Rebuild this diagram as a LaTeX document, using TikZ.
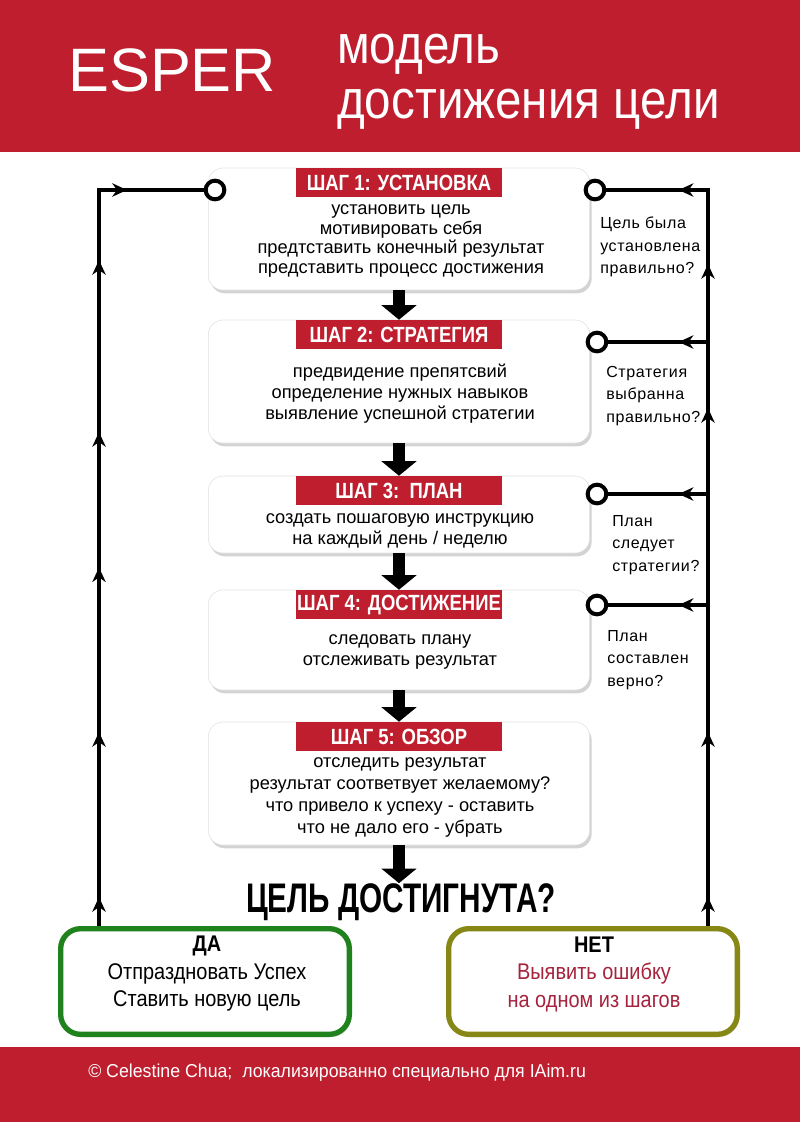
\documentclass[tikz,border=0pt]{standalone}
\usepackage{fontspec}
\setmainfont{Liberation Sans}
\newfontfamily\narrowfont{Liberation Sans}[FakeStretch=0.84]
\newfontfamily\titlefont{Liberation Sans}[FakeStretch=0.87]
\newfontfamily\answerfont{Liberation Sans}[FakeStretch=0.88]
\newfontfamily\creditfont{Liberation Sans}[FakeStretch=0.95]
\newfontfamily\tightfont{Liberation Sans}[FakeStretch=0.72]
\newfontfamily\spacedfont{Liberation Sans}[LetterSpace=4]
\usetikzlibrary{arrows.meta, positioning, shadows, decorations.markings}
\definecolor{ESPred}{RGB}{190,30,45}
\definecolor{ESPgreen}{RGB}{32,130,28}
\definecolor{ESPolive}{RGB}{135,135,22}
\definecolor{ESPerr}{RGB}{165,35,60}
\tikzset{
  every node/.style={font=\fontsize{13.7}{15.75}\selectfont},
  stepbox/.style={draw=black!12, fill=white, rounded corners=11pt, minimum width=286pt,
    drop shadow={shadow xshift=1.5pt, shadow yshift=-2.5pt, opacity=0.35}},
  stephead/.style={fill=ESPred, text=white, anchor=north, inner sep=0pt,
    minimum width=154pt, minimum height=22pt,
    font=\narrowfont\bfseries\fontsize{16.5}{18}\selectfont},
  steptext/.style={align=center, inner sep=0pt},
  question/.style={align=left, anchor=west, inner sep=0pt,
    font=\spacedfont\fontsize{12}{17}\selectfont},
  ring/.style={circle, draw, line width=3pt, fill=white, minimum size=14pt, inner sep=0pt},
  bigarrow/.style={line width=9.5pt, -{Triangle[width=26pt, length=11pt]}},
  loopline/.style={line width=3pt, postaction={decorate}, decoration={markings}},
  tipat/.style={decoration={mark=at position #1 with {\arrow{Stealth[length=11pt, width=10pt, inset=3.5pt]}}}},
  answer/.style={rounded corners=15pt, line width=4pt, fill=white,
    minimum width=216.5pt, minimum height=79.25pt,
    drop shadow={shadow xshift=1.5pt, shadow yshift=-2pt, opacity=0.25}},
}

\begin{document}
\begin{tikzpicture}[x=0.75pt, y=-0.75pt]
  \useasboundingbox (0,0) rectangle (800,1122);

  % header and footer bands
  \fill[ESPred] (0,0) rectangle (800,152);
  \fill[ESPred] (0,1047) rectangle (800,1122);
  \node[anchor=base west, text=white, inner sep=0pt, font=\fontsize{46}{50}\selectfont] (esper) at (68,91) {ESPER};
  \node[anchor=base west, text=white, inner sep=0pt, font=\titlefont\fontsize{41}{46}\selectfont] (title1) at (337,63) {модель};
  \node[anchor=base west, text=white, inner sep=0pt, font=\titlefont\fontsize{41}{46}\selectfont] (title2) at (337,118) {достижения цели};

  % steps
  \node[stepbox, minimum height=91.5pt] (s1) at (399,229) {};
  \node[stepbox, minimum height=92.25pt] (s2) at (399,381.5) {};
  \node[stepbox, minimum height=57.75pt] (s3) at (399,514.5) {};
  \node[stepbox, minimum height=75pt] (s4) at (399,640) {};
  \node[stepbox, minimum height=92.25pt] (s5) at (399,783.5) {};

  \node[stephead] (h1) at (s1.north) {ШАГ 1: УСТАНОВКА};
  \node[stephead] (h2) at (s2.north) {ШАГ 2: СТРАТЕГИЯ};
  \node[stephead] (h3) at (s3.north) {ШАГ 3:\ \ ПЛАН};
  \node[stephead] (h4) at (s4.north) {ШАГ 4: ДОСТИЖЕНИЕ};
  \node[stephead] (h5) at (s5.north) {ШАГ 5: ОБЗОР};

  \node[steptext, font=\fontsize{13.7}{14.8}\selectfont] (t1) at (401,241)
    {установить цель\\мотивировать себя\\предтставить конечный результат\\ представить процесс достижения};
  \node[steptext] (t2) at (400,394) {предвидение препятсвий\\определение нужных навыков\\выявление успешной стратегии};
  \node[steptext] (t3) at (400,531) {создать пошаговую инструкцию\\на каждый день / неделю};
  \node[steptext] (t4) at (400,652) {следовать плану\\отслеживать результат};
  \node[steptext, font=\fontsize{13.7}{16.5}\selectfont] (t5) at (400,797)
    {отследить результат\\результат соответвует желаемому?\\что привело к успеху - оставить\\что не дало его - убрать};

  \node[inner sep=0pt, font=\tightfont\bfseries\fontsize{31}{34}\selectfont] (goal) at (401,902) {ЦЕЛЬ ДОСТИГНУТА?};

  \draw[bigarrow] (s1.south) -- (s2.north);
  \draw[bigarrow] (s2.south) -- (s3.north);
  \draw[bigarrow] (s3.south) -- (s4.north);
  \draw[bigarrow] (s4.south) -- (s5.north);
  \draw[bigarrow] (s5.south) -- (s5.south |- goal.north);

  % answers
  \node[answer, draw=ESPgreen] (yes) at (205,981.5) {};
  \node[answer, draw=ESPolive] (no) at (593,981.5) {};
  \node[align=center, inner sep=0pt, font=\answerfont\fontsize{17}{20.6}\selectfont] (yestxt) at (207,974)
    {\textbf{ДА}\\Отпраздновать Успех\\Ставить новую цель};
  \node[align=center, inner sep=0pt, font=\answerfont\fontsize{17}{20.6}\selectfont] (notxt) at (594,974)
    {\textbf{НЕТ}\\\textcolor{ESPerr}{Выявить ошибку}\\\textcolor{ESPerr}{на одном из шагов}};

  % checks on the right
  \node[question] (q1) at (600,247) {Цель была\\установлена\\правильно?};
  \node[question] (q2) at (606,396) {Стратегия\\выбранна\\правильно?};
  \node[question] (q3) at (612,545) {План\\следует\\стратегии?};
  \node[question] (q4) at (607,660) {План\\составлен\\верно?};

  % loops
  \node[ring] (cl1) at (215,190) {};
  \node[ring] (cr1) at (595,190) {};
  \node[ring] (cr2) at (597,342) {};
  \node[ring] (cr3) at (597,494) {};
  \node[ring] (cr4) at (597,605) {};
  \coordinate (ltop) at (99,190);
  \coordinate (rtop) at (708,190);

  \draw[loopline, tipat=21.75pt, tipat=145.5pt, tipat=269pt, tipat=370.5pt, tipat=499.5pt, tipat=573pt]
    (ltop |- yes.north) -- (ltop) -- (cl1);
  \draw[loopline, tipat=21.75pt, tipat=145.5pt, tipat=388.5pt, tipat=496.5pt, tipat=574pt]
    (rtop |- no.north) -- (rtop) -- (cr1);
  \draw[loopline, tipat=22pt] (rtop |- cr2) -- (cr2);
  \draw[loopline, tipat=22pt] (rtop |- cr3) -- (cr3);
  \draw[loopline, tipat=22pt] (rtop |- cr4) -- (cr4);

  \node[anchor=west, text=white, inner sep=0pt, font=\creditfont\fontsize{14}{16}\selectfont] (credit) at (88,1073)
    {© Celestine Chua;\ \ локализированно специально для IAim.ru};
\end{tikzpicture}
\end{document}
